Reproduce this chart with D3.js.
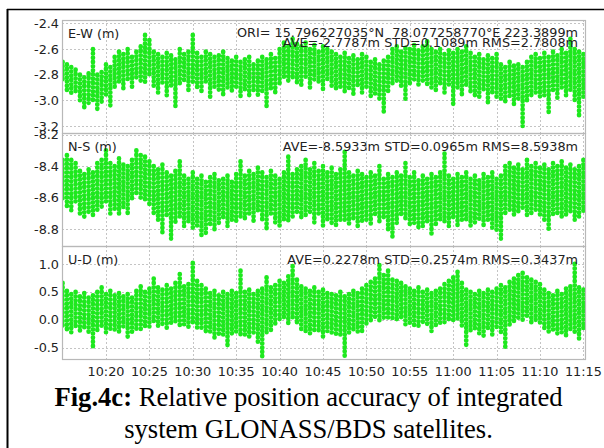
<!DOCTYPE html>
<html>
<head>
<meta charset="utf-8">
<script src="https://cdn.jsdelivr.net/npm/d3@7"></script>
<style>
  body { margin: 0; background: #fff; }
  svg { display: block; }
</style>
</head>
<body>
<div id="chart-area"></div>
<script>
// x ticks and sample spacing (30 s bins from 10:15:00)
let xTickLabels = ['10:20', '10:25', '10:30', '10:35', '10:40', '10:45', '10:50', '10:55', '11:00', '11:05', '11:10', '11:15'];
let startTime = '10:15:00';
let stepSeconds = 30;

// E-W (m): upper / lower edge of the point cloud per bin
let ewHigh = [-2.70,-2.72,-2.74,-2.76,-2.80,-2.82,-2.79,-2.60,-2.80,-2.78,-2.72,-2.74,-2.66,-2.62,-2.64,-2.60,-2.66,-2.62,-2.58,-2.49,
  -2.53,-2.62,-2.64,-2.66,-2.63,-2.65,-2.68,-2.60,-2.64,-2.62,-2.49,-2.63,-2.66,-2.62,-2.64,-2.66,-2.65,-2.62,-2.67,-2.69,
  -2.66,-2.70,-2.68,-2.66,-2.72,-2.69,-2.66,-2.68,-2.64,-2.67,-2.60,-2.55,-2.58,-2.52,-2.56,-2.58,-2.55,-2.60,-2.57,-2.62,
  -2.58,-2.60,-2.62,-2.64,-2.66,-2.63,-2.67,-2.65,-2.68,-2.64,-2.66,-2.70,-2.68,-2.72,-2.69,-2.66,-2.60,-2.58,-2.62,-2.59,
  -2.60,-2.57,-2.61,-2.58,-2.54,-2.60,-2.62,-2.60,-2.64,-2.61,-2.63,-2.60,-2.62,-2.58,-2.63,-2.66,-2.64,-2.68,-2.65,-2.67,
  -2.64,-2.72,-2.74,-2.70,-2.73,-2.72,-2.74,-2.70,-2.66,-2.64,-2.67,-2.63,-2.66,-2.62,-2.65,-2.60,-2.63,-2.52,-2.60,-2.62,-2.64];
let ewLow = [-2.86,-2.92,-2.95,-2.93,-3.00,-3.08,-3.02,-3.00,-3.07,-3.01,-2.97,-3.06,-2.90,-2.88,-2.92,-2.86,-2.90,-2.84,-2.86,-2.88,
  -2.82,-2.90,-2.94,-2.88,-2.96,-2.90,-3.05,-2.88,-2.86,-2.92,-2.88,-2.90,-2.94,-2.88,-2.98,-2.90,-2.92,-2.96,-2.90,-2.95,
  -2.92,-2.99,-2.93,-2.96,-2.92,-2.98,-2.94,-3.05,-2.92,-2.96,-2.88,-2.84,-2.86,-2.82,-2.86,-2.88,-2.84,-2.90,-2.86,-2.88,
  -2.92,-2.86,-2.90,-2.92,-2.90,-2.94,-2.92,-2.96,-2.90,-2.94,-2.92,-2.98,-2.96,-3.00,-3.11,-2.94,-2.88,-2.86,-2.90,-3.00,
  -2.88,-2.84,-2.90,-2.86,-2.88,-2.90,-2.92,-2.88,-2.94,-2.90,-3.05,-2.92,-2.96,-2.90,-2.94,-2.96,-2.99,-2.94,-3.02,-2.96,
  -2.98,-3.00,-3.02,-2.98,-3.04,-3.00,-3.20,-3.02,-2.96,-2.94,-2.98,-2.96,-3.10,-2.94,-2.98,-2.92,-2.96,-2.94,-3.00,-3.12,-2.98];

// N-S (m)
let nsHigh = [-8.36,-8.33,-8.36,-8.38,-8.43,-8.45,-8.42,-8.44,-8.38,-8.36,-8.30,-8.38,-8.40,-8.35,-8.39,-8.40,-8.36,-8.30,-8.33,-8.34,
  -8.37,-8.40,-8.42,-8.39,-8.44,-8.46,-8.43,-8.37,-8.46,-8.48,-8.44,-8.48,-8.46,-8.50,-8.47,-8.45,-8.49,-8.48,-8.46,-8.50,
  -8.45,-8.37,-8.46,-8.43,-8.45,-8.41,-8.44,-8.47,-8.43,-8.46,-8.48,-8.44,-8.34,-8.45,-8.42,-8.40,-8.36,-8.42,-8.38,-8.43,
  -8.40,-8.44,-8.41,-8.45,-8.42,-8.31,-8.44,-8.46,-8.43,-8.45,-8.47,-8.44,-8.46,-8.40,-8.48,-8.45,-8.47,-8.44,-8.46,-8.38,
  -8.47,-8.44,-8.49,-8.46,-8.48,-8.45,-8.47,-8.44,-8.32,-8.46,-8.48,-8.45,-8.47,-8.44,-8.48,-8.46,-8.49,-8.45,-8.47,-8.44,
  -8.48,-8.46,-8.40,-8.38,-8.41,-8.39,-8.42,-8.36,-8.40,-8.38,-8.41,-8.39,-8.42,-8.38,-8.40,-8.37,-8.41,-8.39,-8.42,-8.40,-8.36];
let nsLow = [-8.62,-8.66,-8.68,-8.64,-8.72,-8.74,-8.70,-8.72,-8.68,-8.66,-8.64,-8.70,-8.68,-8.72,-8.66,-8.70,-8.62,-8.58,-8.60,-8.62,
  -8.66,-8.70,-8.74,-8.82,-8.72,-8.86,-8.76,-8.74,-8.78,-8.76,-8.80,-8.78,-8.84,-8.84,-8.78,-8.80,-8.76,-8.74,-8.78,-8.74,
  -8.76,-8.72,-8.74,-8.72,-8.76,-8.70,-8.74,-8.80,-8.72,-8.76,-8.78,-8.74,-8.76,-8.72,-8.70,-8.74,-8.72,-8.70,-8.76,-8.72,
  -8.78,-8.74,-8.76,-8.78,-8.74,-8.76,-8.78,-8.74,-8.80,-8.76,-8.74,-8.78,-8.72,-8.76,-8.74,-8.80,-8.86,-8.76,-8.72,-8.74,
  -8.78,-8.76,-8.80,-8.78,-8.76,-8.83,-8.78,-8.74,-8.76,-8.78,-8.74,-8.79,-8.76,-8.74,-8.78,-8.76,-8.74,-8.78,-8.76,-8.80,
  -8.82,-8.86,-8.70,-8.68,-8.72,-8.70,-8.68,-8.72,-8.70,-8.68,-8.72,-8.76,-8.80,-8.72,-8.70,-8.74,-8.72,-8.70,-8.74,-8.72,-8.70];

// U-D (m)
let udHigh = [0.66,0.52,0.46,0.50,0.42,0.48,0.40,0.44,0.50,0.58,0.46,0.52,0.44,0.48,0.42,0.46,0.40,0.52,0.60,0.50,
  0.56,0.74,0.58,0.54,0.62,0.56,0.66,0.82,0.60,0.64,1.02,0.70,0.62,0.56,0.48,0.52,0.44,0.50,0.46,0.52,
  0.48,0.88,0.50,0.54,0.46,0.52,0.56,0.76,0.58,0.62,0.70,0.66,0.78,0.96,0.72,0.60,0.56,0.52,0.58,0.50,
  0.54,0.48,0.46,0.44,0.50,0.42,0.46,0.52,0.48,0.56,0.62,0.68,0.74,0.98,0.80,0.88,0.72,0.70,0.66,0.60,
  0.56,0.52,0.58,0.50,0.54,0.48,0.52,0.56,0.64,0.70,0.76,0.86,0.66,0.54,0.50,0.46,0.52,0.48,0.54,0.50,
  0.56,0.62,0.58,0.68,0.74,0.80,0.84,0.76,0.72,0.68,0.64,0.54,0.48,0.44,0.52,0.46,0.56,0.60,1.00,0.58,0.54];
let udLow = [-0.10,-0.18,-0.22,-0.14,-0.20,-0.16,-0.26,-0.48,-0.18,-0.14,-0.22,-0.16,-0.20,-0.24,-0.18,-0.30,-0.22,-0.16,-0.20,-0.14,
  -0.12,-0.08,-0.16,-0.12,-0.18,-0.10,-0.06,-0.12,-0.08,-0.16,-0.10,-0.14,-0.18,-0.24,-0.22,-0.36,-0.26,-0.30,-0.48,-0.28,
  -0.24,-0.30,-0.26,-0.34,-0.28,-0.40,-0.68,-0.22,-0.18,-0.10,-0.04,0.02,-0.06,0.00,-0.08,-0.18,-0.20,-0.24,-0.18,-0.22,
  -0.34,-0.20,-0.24,-0.30,-0.26,-0.64,-0.28,-0.22,-0.26,-0.20,-0.10,-0.04,0.00,-0.06,0.04,-0.02,0.02,-0.04,0.00,-0.08,
  -0.06,-0.10,-0.14,-0.08,-0.12,-0.20,-0.10,-0.08,-0.04,0.00,-0.06,-0.02,-0.10,-0.48,-0.20,-0.16,-0.24,-0.30,-0.20,-0.26,
  -0.18,-0.22,-0.48,-0.10,-0.04,0.00,-0.02,0.04,-0.06,0.00,-0.10,-0.18,-0.24,-0.20,-0.28,-0.22,-0.30,-0.20,-0.26,-0.36,-0.18];

let ewTicks = [-2.4, -2.6, -2.8, -3.0, -3.2];
let nsTicks = [-8.2, -8.4, -8.6, -8.8];
let udTicks = [1.0, 0.5, 0.0, -0.5];

let width = 604;
let height = 448;
let plot = { left: 62, right: 586 };
let green = '#1ee81e';
let font = '"DejaVu Sans", Verdana, sans-serif';
let fontSize = '12.8px';

let parseTime = d3.timeParse('%H:%M:%S');
let t0 = parseTime(startTime);

let x = d3
  .scaleTime()
  .domain([parseTime('10:14:56'), parseTime('11:15:18')])
  .range([plot.left, plot.right]);

let panels = [
  { name: 'E-W (m)', high: ewHigh, low: ewLow, ticks: ewTicks, domain: [-3.255, -2.374], top: 20, bottom: 133,
    stats: 'AVE=-2.7787m STD=0.1089m RMS=2.7808m', ori: 'ORI= 15.796227035°N  78.077258770°E 223.3899m' },
  { name: 'N-S (m)', high: nsHigh, low: nsLow, ticks: nsTicks, domain: [-8.907, -8.19], top: 133, bottom: 246,
    stats: 'AVE=-8.5933m STD=0.0965m RMS=8.5938m' },
  { name: 'U-D (m)', high: udHigh, low: udLow, ticks: udTicks, domain: [-0.7, 1.32], top: 246, bottom: 359,
    stats: 'AVE=0.2278m STD=0.2574m RMS=0.3437m' },
];

let chart = d3
  .select('#chart-area')
  .append('svg')
  .attr('width', width)
  .attr('height', height);

//outer frame
chart.append('line').attr('x1', 7).attr('x2', width).attr('y1', 9.5).attr('y2', 9.5)
  .attr('stroke', '#000').attr('stroke-width', 1.6);
chart.append('line').attr('x1', 7.5).attr('x2', 7.5).attr('y1', 9).attr('y2', height)
  .attr('stroke', '#000').attr('stroke-width', 2);

let defs = chart.append('defs');

panels.forEach((p, k) => {
  let y = d3.scaleLinear().domain(p.domain).range([p.bottom, p.top]);
  let g = chart.append('g');

  defs.append('clipPath').attr('id', 'clip' + k)
    .append('rect')
    .attr('x', plot.left).attr('y', p.top)
    .attr('width', plot.right - plot.left).attr('height', p.bottom - p.top);

  //grid
  g.append('g')
    .selectAll('line')
    .data(p.ticks)
    .join('line')
    .attr('x1', plot.left).attr('x2', plot.right)
    .attr('y1', (d) => Math.round(y(d)) + 0.5).attr('y2', (d) => Math.round(y(d)) + 0.5)
    .attr('stroke', '#c4c4c4').attr('stroke-dasharray', '2,2');
  g.append('g')
    .selectAll('line')
    .data(xTickLabels)
    .join('line')
    .attr('x1', (d) => Math.round(x(parseTime(d + ':00'))) + 0.5)
    .attr('x2', (d) => Math.round(x(parseTime(d + ':00'))) + 0.5)
    .attr('y1', p.top).attr('y2', p.bottom)
    .attr('stroke', '#c4c4c4').attr('stroke-dasharray', '2,2');

  //points: range of the cloud in each 30 s bin, drawn as a string of dots
  g.append('g')
    .attr('clip-path', `url(#clip${k})`)
    .selectAll('line')
    .data(p.high.map((h, i) => ({ t: d3.timeSecond.offset(t0, i * stepSeconds), h: h, l: p.low[i] })))
    .join('line')
    .attr('x1', (d) => x(d.t)).attr('x2', (d) => x(d.t))
    .attr('y1', (d) => y(d.h)).attr('y2', (d) => y(d.l))
    .attr('stroke', green)
    .attr('stroke-width', 4.6)
    .attr('stroke-dasharray', '0.6,3.6')
    .attr('stroke-linecap', 'round');

  //panel frame
  g.append('rect')
    .attr('x', plot.left + 0.5).attr('y', p.top + 0.5)
    .attr('width', plot.right - plot.left - 1).attr('height', p.bottom - p.top)
    .attr('fill', 'none').attr('stroke', '#b8b8b8').attr('stroke-width', 1.2);

  //y tick labels
  g.append('g')
    .selectAll('text')
    .data(p.ticks)
    .join('text')
    .attr('x', 59)
    .attr('y', (d) => y(d) + 4.6)
    .attr('text-anchor', 'end')
    .style('font-family', font).style('font-size', fontSize).style('fill', '#222')
    .text((d) => d.toFixed(1));

  //labels
  g.append('text')
    .attr('x', 68).attr('y', p.top + 18)
    .style('font-family', font).style('font-size', fontSize).style('fill', '#222')
    .text(p.name);
  if (p.ori) {
    g.append('text')
      .attr('x', 578).attr('y', p.top + 17).attr('text-anchor', 'end')
      .style('white-space', 'pre')
      .style('font-family', font).style('font-size', fontSize).style('fill', '#222')
      .text(p.ori);
  }
  g.append('text')
    .attr('x', 578).attr('y', p.top + (p.ori ? 26.5 : 18)).attr('text-anchor', 'end')
    .style('font-family', font).style('font-size', fontSize).style('fill', '#222')
    .text(p.stats);
});

//x tick labels
chart.append('g')
  .selectAll('text')
  .data(xTickLabels)
  .join('text')
  .attr('x', (d) => x(parseTime(d + ':00')))
  .attr('y', 376)
  .attr('text-anchor', 'middle')
  .style('font-family', font).style('font-size', fontSize).style('fill', '#222')
  .text((d) => d);

//caption
let caption = chart.append('g')
  .style('font-family', '"Liberation Serif", "Times New Roman", serif')
  .style('font-size', '26.6px')
  .style('fill', '#000')
  .attr('text-anchor', 'middle');
let line1 = caption.append('text').attr('x', 308.5).attr('y', 405.5);
line1.append('tspan').style('font-weight', 'bold').text('Fig.4c:');
line1.append('tspan').text(' Relative position accuracy of integrated');
caption.append('text').attr('x', 308.5).attr('y', 438).text('system GLONASS/BDS satellites.');
</script>
</body>
</html>
